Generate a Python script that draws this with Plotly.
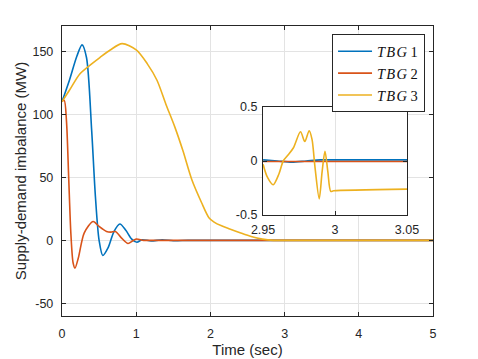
import plotly.graph_objects as go

# main plot data (time in sec, imbalance in MW)
t_tbg1 = [0, 0.1, 0.2, 0.27, 0.33, 0.4, 0.45, 0.5, 0.55, 0.62, 0.7, 0.78, 0.86, 0.94, 1.01, 1.08, 1.2, 1.35, 1.5, 1.7, 2.0, 5.0]
tbg1 = [110, 127, 146, 155, 145, 87, 35, 0, -12, -6, 7, 13, 8, 1, -1.5, 0.5, -0.5, 0.5, -0.3, 0, 0, 0]

t_tbg2 = [0, 0.03, 0.06, 0.09, 0.12, 0.15, 0.175, 0.22, 0.3, 0.42, 0.5, 0.6, 0.66, 0.72, 0.8, 0.89, 0.95, 1.0, 1.1, 1.2, 1.5, 5.0]
tbg2 = [110, 111, 95, 50, 5, -18, -22, -14, 6, 15, 11, 7, 6.5, 7, 2, -2.5, -0.5, 1, 0, 0, 0, 0]

t_tbg3 = [0, 0.1, 0.24, 0.4, 0.51, 0.65, 0.81, 1.0, 1.15, 1.28, 1.4, 1.52, 1.63, 1.75, 1.88, 1.98, 2.05, 2.15, 2.26, 2.4, 2.55, 2.7, 2.85, 3.0, 5.0]
tbg3 = [110, 119, 132, 140, 145, 151, 156, 151, 140, 127, 108, 90, 71, 48, 30, 18, 14.5, 11.5, 9, 6, 3, 1, 0, 0, 0]

# inset data (zoom around t = 3 s)
ti_12 = [2.95, 2.96, 2.97, 2.98, 2.99, 3.0, 3.05]
tbg1_in = [0.01, 0.0, -0.01, 0.0, 0.01, 0.01, 0.01]
tbg2_in = [-0.005, -0.005, -0.005, -0.005, -0.005, -0.005, -0.005]

ti_3 = [2.95, 2.953, 2.957, 2.961, 2.964, 2.967, 2.971, 2.976, 2.979, 2.982, 2.984, 2.986, 2.989, 2.991, 2.993, 2.995, 2.997, 2.999, 3.05]
tbg3_in = [-0.03, -0.15, -0.22, -0.12, 0.0, 0.05, 0.12, 0.27, 0.18, 0.28, 0.2, -0.05, -0.35, -0.1, 0.09, -0.1, -0.28, -0.275, -0.26]

# tick labels (plain hyphen for negatives, like the original)
main_yticks = [-50, 0, 50, 100, 150]
main_ylabels = ['-50', '0', '50', '100', '150']
inset_xticks = [2.95, 3, 3.05]
inset_xlabels = ['2.95', '3', '3.05']
inset_yticks = [-0.5, 0, 0.5]
inset_ylabels = ['-0.5', '0', '0.5']

names = ['<i>T\u200aB\u200aG</i>\u00a01', '<i>T\u200aB\u200aG</i>\u00a02', '<i>T\u200aB\u200aG</i>\u00a03']
colors = ['#0072BD', '#D95319', '#EDB120']

fig = go.Figure()

for t, y, nm, c in zip([t_tbg1, t_tbg2, t_tbg3], [tbg1, tbg2, tbg3], names, colors):
    fig.add_trace(go.Scatter(x=t, y=y, name=nm, mode='lines',
                             line=dict(color=c, width=1.6, shape='spline', smoothing=0.8)))

for t, y, c in zip([ti_12, ti_12, ti_3], [tbg1_in, tbg2_in, tbg3_in], colors):
    fig.add_trace(go.Scatter(x=t, y=y, mode='lines', showlegend=False,
                             line=dict(color=c, width=1.6, shape='spline', smoothing=0.8),
                             xaxis='x2', yaxis='y2'))

ax_common = dict(showline=True, linecolor='#262626', linewidth=1.4, mirror='ticks',
                 ticks='inside', ticklen=4, tickcolor='#262626', gridcolor='#e3e3e3',
                 zeroline=False, automargin=False,
                 tickfont=dict(family='Liberation Sans', size=12.5, color='#262626'))

fig.update_layout(
    width=478, height=359,
    margin=dict(l=62, r=45, t=26, b=43),
    paper_bgcolor='white', plot_bgcolor='white',
    xaxis=dict(range=[0, 5], tickvals=[0, 1, 2, 3, 4, 5], ticklabelstandoff=6,
               title=dict(text='Time (sec)', standoff=4,
                          font=dict(family='Liberation Sans', size=15, color='#262626')),
               **ax_common),
    yaxis=dict(range=[-60, 170], tickvals=main_yticks, ticktext=main_ylabels, ticklabelstandoff=5,
               title=dict(text='Supply-demand imbalance (MW)', standoff=2,
                          font=dict(family='Liberation Sans', size=15, color='#262626')),
               **ax_common),
    xaxis2=dict(domain=[0.542, 0.930], anchor='y2', range=[2.95, 3.05],
                tickvals=inset_xticks, ticktext=inset_xlabels, ticklabelstandoff=3,
                **ax_common),
    yaxis2=dict(domain=[0.348, 0.721], anchor='x2', range=[-0.5, 0.5],
                tickvals=inset_yticks, ticktext=inset_ylabels, ticklabelstandoff=2,
                **ax_common),
    legend=dict(x=0.978, y=0.972, xanchor='right', yanchor='top',
                bgcolor='white', bordercolor='#262626', borderwidth=1.2,
                font=dict(family='Liberation Serif', size=14.5, color='#111111'),
                tracegroupgap=0, itemwidth=34),
    showlegend=True,
)

# white background for the inset
fig.add_shape(type='rect', xref='x2 domain', yref='y2 domain', x0=0, x1=1, y0=0, y1=1,
              fillcolor='white', line_width=0, layer='below')

# drop the page's default body margin so the figure sits at the window origin
fig.write_html("out.html", config={'displayModeBar': False},
               post_script="document.body.style.margin='0';")
